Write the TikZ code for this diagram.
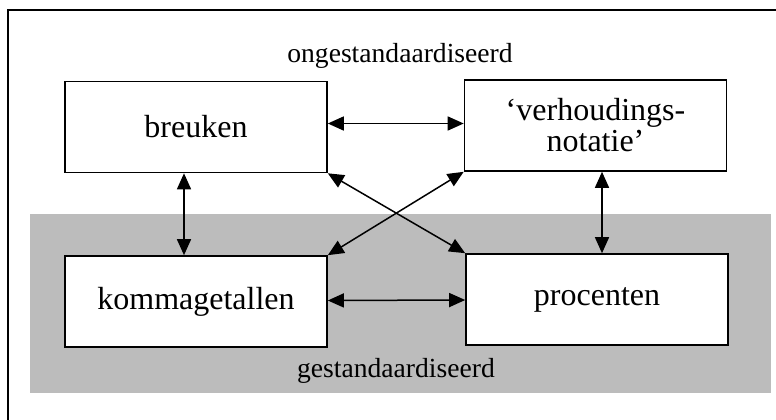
\documentclass[tikz,border=0pt]{standalone}
\usepackage{fontspec}
\setmainfont{Liberation Serif}
\usetikzlibrary{arrows.meta}
\definecolor{bandgray}{RGB}{188,188,188}
\tikzset{
  box/.style={draw, line width=1.6pt, fill=white, minimum width=262pt, minimum height=91pt, inner sep=0pt, align=center, font=\fontsize{32}{31}\selectfont},
  lbl/.style={anchor=base, inner sep=0pt, font=\fontsize{27.6}{30}\selectfont},
  arr/.style={line width=1.5pt, {Triangle[length=16pt,width=14pt]}-{Triangle[length=16pt,width=14pt]}}
}
\begin{document}
\begin{tikzpicture}[x=1pt,y=-1pt]
\useasboundingbox (0,0) rectangle (776,420);
\fill[white] (0,0) rectangle (776,420);
\fill[bandgray] (30,214) rectangle (771,393);
\draw[line width=2.2pt] (8,420) -- (8,10) -- (776,10);
\node[box] (b) at (196,127) {breuken};
\node[box] (v) at (595.5,125.5) {‘verhoudings-\\notatie’};
\node[box] (k) at (196,301.5) {kommagetallen};
\node[box] (p) at (597,299.5) {procenten};
\node[lbl] (top) at (400,63) {ongestandaardiseerd};
\node[lbl] (bot) at (396,377) {gestandaardiseerd};
\draw[arr] ([yshift=3.5pt]b.east) -- ([yshift=2pt]v.west);
\draw[arr] ([yshift=1pt]k.east) -- ([yshift=-0.5pt]p.west);
\draw[arr] ([xshift=-12pt]b.south) -- ([xshift=-12pt]k.north);
\draw[arr] ([xshift=6.5pt]v.south) -- ([xshift=5pt]p.north);
\draw[arr] (b.south east) -- (p.north west);
\draw[arr] (v.south west) -- (k.north east);
\end{tikzpicture}
\end{document}
